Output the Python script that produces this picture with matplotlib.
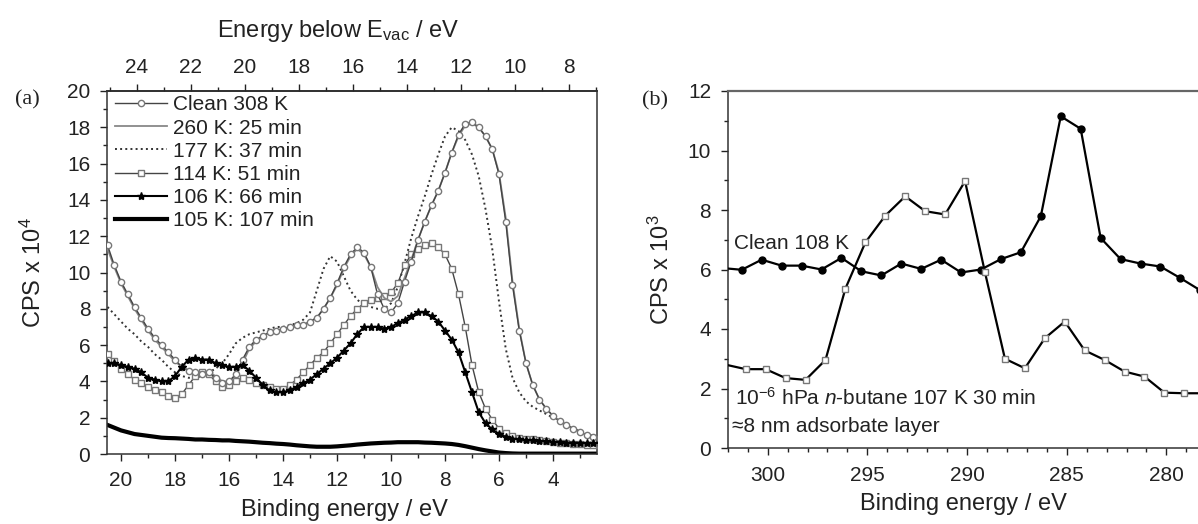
""" UPS (a) and XPS C 1s (b) spectra, n-butane adsorption """

import numpy as np
import matplotlib
matplotlib.use('Agg')
import matplotlib.pyplot as plt
from matplotlib.ticker import MultipleLocator

plt.rcParams['font.family'] = ['Liberation Sans', 'DejaVu Sans']
plt.rcParams['mathtext.fontset'] = 'custom'
plt.rcParams['mathtext.rm'] = 'Liberation Sans'
plt.rcParams['mathtext.it'] = 'Liberation Sans:italic'
plt.rcParams['text.color'] = '#222222'
plt.rcParams['axes.labelcolor'] = '#222222'
plt.rcParams['xtick.color'] = '#222222'
plt.rcParams['ytick.color'] = '#222222'


""" datos panel (a) """

# binding energy grid, eV (20.5 -> 2.25)
be_a = np.arange(20.5, 2.2, -0.25)
work_fn = 4.58   # E_vac offset of the top axis

clean_308 = [11.5, 10.4, 9.5, 8.8, 8.1, 7.5, 6.9, 6.4,
             6.0, 5.6, 5.2, 4.8, 4.6, 4.5, 4.4, 4.5,
             4.2, 3.9, 4.0, 4.4, 5.2, 5.9, 6.3, 6.5,
             6.7, 6.8, 6.9, 7.0, 7.1, 7.1, 7.3, 7.5,
             8.0, 8.6, 9.4, 10.3, 11.0, 11.4, 11.1, 10.3,
             8.8, 8.0, 7.8, 8.3, 9.5, 10.6, 11.8, 12.8,
             13.7, 14.5, 15.5, 16.6, 17.6, 18.2, 18.3, 18.0,
             17.5, 16.8, 15.4, 12.8, 9.3, 6.8, 5.0, 3.8,
             3.0, 2.5, 2.1, 1.8, 1.6, 1.4, 1.2, 1.05,
             0.95, 0.88]

k260_25 = [11.3, 10.3, 9.4, 8.7, 8.0, 7.4, 6.8, 6.3,
           5.9, 5.5, 5.1, 4.8, 4.6, 4.5, 4.5, 4.5,
           4.3, 4.0, 4.0, 4.3, 5.0, 5.8, 6.2, 6.5,
           6.7, 6.8, 6.9, 7.0, 7.0, 7.1, 7.3, 7.5,
           8.0, 8.6, 9.3, 10.2, 10.9, 11.3, 11.0, 10.3,
           9.2, 8.6, 8.4, 8.7, 9.7, 10.7, 11.8, 12.8,
           13.7, 14.5, 15.5, 16.6, 17.5, 18.1, 18.2, 18.0,
           17.5, 16.8, 15.5, 13.0, 9.5, 6.9, 5.0, 3.8,
           3.0, 2.5, 2.1, 1.8, 1.6, 1.4, 1.2, 1.05,
           0.95, 0.88]

k177_37 = [8.1, 7.7, 7.3, 6.9, 6.6, 6.2, 5.9, 5.5,
           5.2, 4.8, 4.5, 4.3, 4.2, 4.2, 4.3, 4.5,
           4.7, 5.0, 5.5, 6.1, 6.4, 6.6, 6.7, 6.8,
           6.9, 7.0, 7.0, 7.1, 7.2, 7.4, 7.8, 9.0,
           10.2, 10.9, 10.6, 9.8, 9.0, 8.5, 8.2, 8.1,
           8.0, 8.0, 8.3, 9.2, 10.5, 11.9, 13.1, 14.2,
           15.4, 16.5, 17.5, 18.0, 17.8, 17.3, 16.5, 15.3,
           13.5, 11.3, 8.4, 5.8, 4.2, 3.4, 2.9, 2.6,
           2.4, 2.2, 2.0, 1.8, 1.6, 1.4, 1.25, 1.1,
           1.0, 0.95]

k114_51 = [5.5, 5.1, 4.7, 4.4, 4.1, 3.9, 3.7, 3.5,
           3.4, 3.2, 3.1, 3.3, 3.8, 4.3, 4.5, 4.4,
           4.0, 3.7, 3.8, 4.0, 4.2, 4.1, 3.9, 3.8,
           3.7, 3.6, 3.6, 3.8, 4.1, 4.5, 4.9, 5.3,
           5.6, 6.1, 6.6, 7.1, 7.6, 8.0, 8.3, 8.5,
           8.6, 8.7, 8.9, 9.4, 10.4, 11.0, 11.3, 11.5,
           11.6, 11.4, 11.0, 10.2, 8.8, 7.0, 4.9, 3.4,
           2.5, 1.9, 1.4, 1.15, 1.0, 0.9, 0.85, 0.8,
           0.75, 0.7, 0.65, 0.62, 0.6, 0.57, 0.55, 0.52,
           0.5, 0.5]

k106_66 = [5.0, 5.0, 4.9, 4.8, 4.7, 4.5, 4.2, 4.1,
           4.0, 4.0, 4.3, 4.8, 5.2, 5.3, 5.2, 5.2,
           5.0, 4.9, 4.8, 4.8, 4.9, 4.6, 4.2, 3.8,
           3.5, 3.4, 3.4, 3.5, 3.7, 3.9, 4.1, 4.4,
           4.7, 5.0, 5.3, 5.7, 6.1, 6.6, 7.0, 7.0,
           7.0, 6.9, 7.0, 7.2, 7.4, 7.6, 7.8, 7.8,
           7.6, 7.3, 6.8, 6.3, 5.6, 4.5, 3.4, 2.3,
           1.7, 1.35, 1.1, 0.95, 0.85, 0.8, 0.77, 0.75,
           0.72, 0.7, 0.68, 0.65, 0.63, 0.62, 0.6, 0.6,
           0.6, 0.6]

k105_107 = [1.6, 1.45, 1.3, 1.2, 1.1, 1.05, 1.0, 0.95,
            0.9, 0.88, 0.87, 0.85, 0.83, 0.8, 0.8, 0.78,
            0.77, 0.75, 0.75, 0.72, 0.7, 0.68, 0.65, 0.62,
            0.6, 0.57, 0.55, 0.52, 0.48, 0.45, 0.42, 0.4,
            0.4, 0.4, 0.42, 0.45, 0.48, 0.52, 0.55, 0.58,
            0.6, 0.62, 0.63, 0.65, 0.65, 0.65, 0.65, 0.63,
            0.62, 0.6, 0.58, 0.55, 0.5, 0.43, 0.35, 0.27,
            0.2, 0.14, 0.08, 0.05, 0.03, 0.02, 0.02, 0.02,
            0.02, 0.02, 0.02, 0.02, 0.02, 0.02, 0.02, 0.02,
            0.02, 0.02]

labels_a = ['Clean 308 K', '260 K: 25 min', '177 K: 37 min',
            '114 K: 51 min', '106 K: 66 min', '105 K: 107 min']


""" datos panel (b) """

be_clean_b = [302.3, 301.3, 300.3, 299.3, 298.3, 297.3, 296.3, 295.3,
              294.3, 293.3, 292.3, 291.3, 290.3, 289.3, 288.3, 287.3,
              286.3, 285.3, 284.3, 283.3, 282.3, 281.3, 280.3, 279.3,
              278.3]
clean_108 = [6.05, 5.99, 6.33, 6.13, 6.13, 6.0, 6.39, 5.94,
             5.8, 6.2, 6.02, 6.33, 5.9, 6.0, 6.35, 6.58,
             7.79, 11.15, 10.73, 7.06, 6.35, 6.2, 6.1, 5.71,
             5.3]

be_butane_b = [302.1, 301.1, 300.1, 299.1, 298.1, 297.1, 296.1, 295.1,
               294.1, 293.1, 292.1, 291.1, 290.1, 289.1, 288.1, 287.1,
               286.1, 285.1, 284.1, 283.1, 282.1, 281.1, 280.1, 279.1,
               278.1]
butane_107 = [2.8, 2.65, 2.65, 2.35, 2.29, 2.96, 5.36, 6.91,
              7.81, 8.46, 7.96, 7.85, 8.97, 5.9, 3.0, 2.68,
              3.69, 4.25, 3.28, 2.96, 2.57, 2.4, 1.86, 1.84,
              1.84]


def estilo_ejes(ax, pad_x, pad_y):
    """ ticks hacia afuera, mayores cada 2, menores cada 1 """
    ax.tick_params(which='both', direction='out', top=False, right=False,
                   labelsize=15, width=1.0)
    ax.tick_params(which='major', length=5)
    ax.tick_params(which='minor', length=3)
    ax.tick_params(axis='x', pad=pad_x)
    ax.tick_params(axis='y', pad=pad_y)
    ax.yaxis.set_major_locator(MultipleLocator(2))
    ax.yaxis.set_minor_locator(MultipleLocator(1))
    for s in ax.spines.values():
        s.set_linewidth(1.1)
        s.set_color('#333333')


""" main """

if __name__ == '__main__':

    fig = plt.figure(figsize=(11.98, 5.24), dpi=100)

    # panel (a)
    ax_a = fig.add_axes([107 / 1198, 70 / 524, 490 / 1198, 363 / 524])

    h_clean, = ax_a.plot(be_a, clean_308, color='#444444', lw=1.0,
                         marker='o', ms=4.5, mfc='white', mec='#777777',
                         mew=1.0, zorder=6)
    h_260, = ax_a.plot(be_a, k260_25, color='#888888', lw=1.3, zorder=5)
    h_177, = ax_a.plot(be_a, k177_37, color='#333333', lw=1.4, ls=':',
                       zorder=3)
    h_114, = ax_a.plot(be_a, k114_51, color='#444444', lw=1.0,
                       marker='s', ms=4.0, mfc='white', mec='#777777',
                       mew=1.0, zorder=4)
    h_106, = ax_a.plot(be_a, k106_66, color='black', lw=1.5,
                       marker='*', ms=6, mec='black', mfc='black', zorder=7)
    h_105, = ax_a.plot(be_a, k105_107, color='black', lw=3.0, zorder=2)

    ax_a.set_xlim(20.52, 2.37)
    ax_a.set_ylim(0, 20)
    ax_a.xaxis.set_major_locator(MultipleLocator(2))
    ax_a.xaxis.set_minor_locator(MultipleLocator(1))
    estilo_ejes(ax_a, 7, 7)

    ax_a.set_xlabel('Binding energy / eV', fontsize=17)
    ax_a.xaxis.set_label_coords(0.484, -0.124)
    ax_a.set_ylabel('CPS x 10$^4$', fontsize=17)
    ax_a.yaxis.set_label_coords(-0.125, 0.5)

    # eje superior: energía respecto del vacío
    top = ax_a.secondary_xaxis('top', functions=(lambda x: x + work_fn,
                                                 lambda x: x - work_fn))
    top.xaxis.set_major_locator(MultipleLocator(2))
    top.xaxis.set_minor_locator(MultipleLocator(1))
    top.tick_params(which='both', direction='out', labelsize=15, width=1.0,
                    pad=5)
    top.tick_params(which='major', length=5)
    top.tick_params(which='minor', length=3)
    top.spines['top'].set_linewidth(1.1)
    top.set_xlabel('Energy below E$_{\\mathrm{vac}}$ / eV', fontsize=17)
    top.xaxis.set_label_coords(0.473, 1.15, transform=ax_a.transAxes)

    ax_a.legend([h_clean, h_260, h_177, h_114, h_106, h_105], labels_a,
                loc='upper left', bbox_to_anchor=(0.016, 0.988),
                frameon=False, fontsize=15, numpoints=1, handlelength=2.5,
                handletextpad=0.3, labelspacing=0.2, borderpad=0,
                borderaxespad=0)

    fig.text(15 / 1198, 1 - 100 / 524, '(a)', family='Liberation Serif',
             fontsize=16, va='center', ha='left')

    # panel (b)
    ax_b = fig.add_axes([727.8 / 1198, 76 / 524, 478.5 / 1198, 357 / 524])

    ax_b.plot(be_clean_b, clean_108, color='black', lw=1.6, marker='o',
              ms=5, mfc='black', mec='black', zorder=3)
    ax_b.plot(be_butane_b, butane_107, color='black', lw=1.6, marker='s',
              ms=4.5, mfc='white', mec='#777777', mew=1.0,
              markevery=slice(1, None), zorder=4)

    ax_b.set_xlim(302.0, 278.0)
    ax_b.set_ylim(0, 12)
    ax_b.xaxis.set_major_locator(MultipleLocator(5))
    ax_b.xaxis.set_minor_locator(MultipleLocator(1))
    estilo_ejes(ax_b, 8, 7)
    ax_b.spines['top'].set_color('#666666')
    ax_b.spines['top'].set_linewidth(1.6)

    ax_b.set_xlabel('Binding energy / eV', fontsize=17)
    ax_b.xaxis.set_label_coords(0.4915, -0.126)
    ax_b.set_ylabel('CPS x 10$^3$', fontsize=17)
    ax_b.yaxis.set_label_coords(-0.112, 0.5)

    ax_b.text(301.7, 6.87, 'Clean 108 K', fontsize=15, va='center')
    ax_b.text(301.63, 1.67, '10$^{-6}$ hPa $n$-butane 107 K 30 min',
              fontsize=15, va='center')
    ax_b.text(301.8, 0.72, '\u22488 nm adsorbate layer', fontsize=15,
              va='center')

    fig.text(642 / 1198, 1 - 101 / 524, '(b)', family='Liberation Serif',
             fontsize=16, va='center', ha='left')

    fig.savefig('out.png', dpi=100)
